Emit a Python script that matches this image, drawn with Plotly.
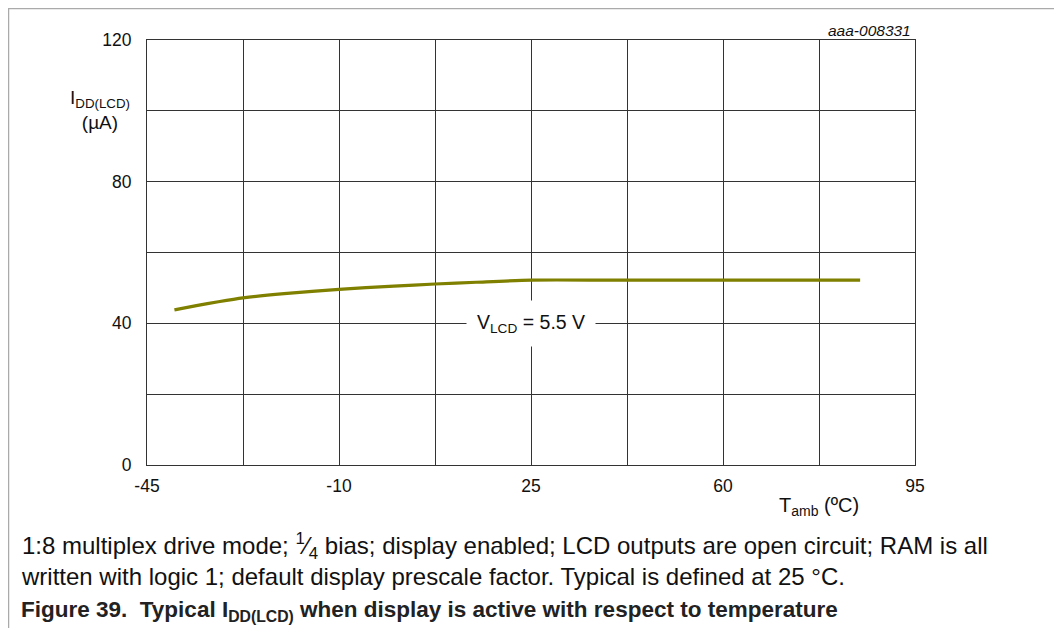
import plotly.graph_objects as go

# data
temp = [-40, -36, -32, -27.5, -20, -10, 0, 7.5, 15, 25, 40, 60, 85]
idd = [43.8, 45.0, 46.1, 47.2, 48.4, 49.6, 50.5, 51.1, 51.6, 52.2, 52.2, 52.2, 52.2]

x_labels = [-45, -10, 25, 60, 95]
y_labels = [0, 40, 80, 120]

# grid: 8 columns, 6 rows
x_grid = [-45 + 17.5 * i for i in range(9)]
y_grid = [20 * i for i in range(7)]

# page is drawn inside the browser's 8px body margin
OFF = 8
W, H = 1062 - OFF, 628 - OFF
L, R, T, B = 147, 915, 40, 465   # plot area, page pixels


def px(x):
    return (x - L) / (R - L)


def py(y):
    return (B - y) / (B - T)


FONT = "Liberation Sans, Arial, sans-serif"

fig = go.Figure()
fig.add_trace(go.Scatter(x=temp, y=idd, mode="lines",
                         line=dict(color="#7f7f00", width=3.2, shape="spline", smoothing=0.7),
                         showlegend=False, hoverinfo="skip"))

fig.update_xaxes(range=[-45, 95], tickvals=x_grid,
                 ticktext=[str(int(v)) if v in x_labels else "" for v in x_grid],
                 showgrid=True, gridcolor="#333", gridwidth=1, zeroline=False,
                 showline=True, linecolor="#333", linewidth=1, mirror=True,
                 ticks="", ticklabelstandoff=5, tickfont=dict(size=17.5, color="#111"))
fig.update_yaxes(range=[0, 120], tickvals=y_grid,
                 ticktext=[str(v) if v in y_labels else "" for v in y_grid],
                 showgrid=True, gridcolor="#333", gridwidth=1, zeroline=False,
                 showline=True, linecolor="#333", linewidth=1, mirror=True,
                 ticks="", ticklabelstandoff=11, tickfont=dict(size=17.5, color="#111"))

ann = [
    dict(x=25, y=40, xref="x", yref="y", text="V<sub>LCD</sub> = 5.5 V", showarrow=False,
         bgcolor="white", borderpad=10, font=dict(size=19.5)),
    dict(x=px(100), y=py(110), xref="paper", yref="paper", text="I<sub>DD(LCD)</sub><br>(µA)",
         showarrow=False, align="center", xanchor="center", yanchor="middle", font=dict(size=19)),
    dict(x=px(819), y=py(506), xref="paper", yref="paper", text="T<sub>amb</sub> (ºC)",
         showarrow=False, xanchor="center", yanchor="middle", font=dict(size=20)),
    dict(x=px(913), y=py(31), xref="paper", yref="paper", text="<i>aaa-008331</i>",
         showarrow=False, xanchor="right", yanchor="middle", font=dict(size=15.5)),
    dict(x=px(19), y=py(559), xref="paper", yref="paper", align="left",
         text="1:8 multiplex drive mode; <sup>1</sup>⁄<sub>4</sub> bias; display enabled; LCD outputs are open circuit; RAM is all"
              "<br>written with logic 1; default display prescale factor. Typical is defined at 25 °C.",
         showarrow=False, xanchor="left", yanchor="middle", font=dict(size=24)),
    dict(x=px(19), y=py(611), xref="paper", yref="paper",
         text="<b>Figure 39.  Typical I<sub>DD(LCD)</sub> when display is active with respect to temperature</b>",
         showarrow=False, xanchor="left", yanchor="middle", font=dict(size=22.5, color="#222")),
]

gray = dict(color="#aaa", width=1.5)
shapes = [
    dict(type="line", xref="paper", yref="paper", x0=px(8.5), x1=px(8.5), y0=py(7), y1=py(640), line=gray),
    dict(type="line", xref="paper", yref="paper", x0=px(1060.5), x1=px(1060.5), y0=py(7), y1=py(640), line=gray),
    dict(type="line", xref="paper", yref="paper", x0=px(8), x1=px(1061), y0=py(8.5), y1=py(8.5), line=gray),
]

fig.update_layout(width=W, height=H,
                  margin=dict(l=L - OFF, r=1062 - R, t=T - OFF, b=628 - B, autoexpand=False),
                  paper_bgcolor="white", plot_bgcolor="white",
                  font=dict(family=FONT, color="#111"),
                  annotations=ann, shapes=shapes)

fig.write_html("out.html")
